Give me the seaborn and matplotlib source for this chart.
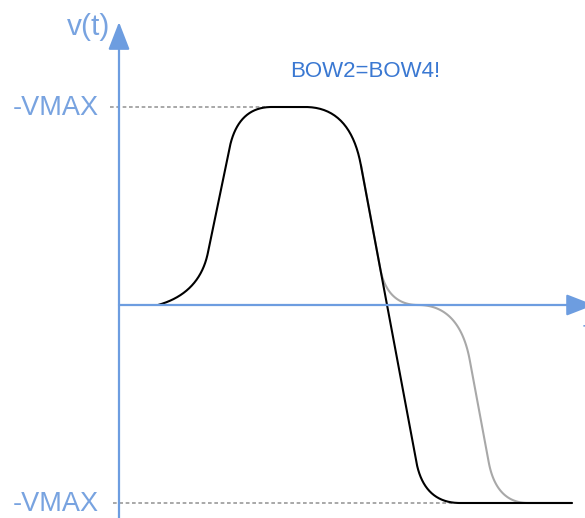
import numpy as np
import matplotlib
matplotlib.use("Agg")
import matplotlib.pyplot as plt
import pandas as pd
import seaborn as sns

sns.set_style('white')
plt.rcParams['font.family'] = ['Liberation Sans', 'DejaVu Sans']

# ====== Profile data (t, v in units of VMAX) ======
# sharp-corner vertices of the profile plus how much of each side is rounded off
black_t = [0.38, 0.795, 1.18, 2.30, 3.04, 4.52]
black_v = [0.0, 0.0586, 1.0, 1.0, -1.0, -1.0]
black_cut_in = [0, 1.0, 0.22, 0.40, 0.104, 0]
black_cut_out = [0, 0.217, 0.30, 0.146, 0.243, 0]

grey_t = [2.41, 2.67, 3.395, 3.763, 4.52]
grey_v = [0.707, 0.0, 0.0, -1.0, -1.0]
grey_cut_in = [0, 0.264, 0.57, 0.207, 0]
grey_cut_out = [0, 0.43, 0.278, 0.42, 0]

vmax_label = "-VMAX"
title_text = "BOW2=BOW4!"

axis_blue = '#6d9de0'
label_blue = '#78a3e0'
note_blue = '#3a78d2'


def rounded_path(ts, vs, cut_in, cut_out, n=40):
    """Polyline with each inner corner replaced by a quadratic Bezier."""
    pts = np.column_stack([ts, vs]).astype(float)
    out = [pts[0]]
    for i in range(1, len(pts) - 1):
        p_prev, p, p_next = pts[i - 1], pts[i], pts[i + 1]
        a = p + (p_prev - p) * cut_in[i]
        b = p + (p_next - p) * cut_out[i]
        s = np.linspace(0, 1, n)[:, None]
        bez = (1 - s) ** 2 * a + 2 * (1 - s) * s * p + s ** 2 * b
        out.extend(bez)
    out.append(pts[-1])
    out = np.array(out)
    return pd.DataFrame({'t': out[:, 0], 'v': out[:, 1]})


black = rounded_path(black_t, black_v, black_cut_in, black_cut_out)
grey = rounded_path(grey_t, grey_v, grey_cut_in, grey_cut_out)

# ====== Figure ======
fig = plt.figure(figsize=(5.85, 5.18), dpi=100)
ax = fig.add_axes([0, 0, 1, 1])
ax.set_xlim(-1.20, 4.65)
ax.set_ylim(-1.0758, 1.5404)
ax.axis('off')

# dotted VMAX guides
ax.plot([-0.10, 1.45], [1, 1], color='#9a9a9a', lw=1.2, ls=(0, (2.2, 1.6)))
ax.plot([-0.07, 3.35], [-1, -1], color='#9a9a9a', lw=1.2, ls=(0, (2.2, 1.6)))

# axes with arrows
ax.annotate('', xy=(-0.01, 1.429), xytext=(-0.01, -1.09),
            arrowprops=dict(arrowstyle='-|>,head_length=0.85,head_width=0.33',
                            mutation_scale=20, color=axis_blue, lw=1.6,
                            shrinkA=0, shrinkB=0))
ax.annotate('', xy=(4.74, 0), xytext=(-0.01, 0),
            arrowprops=dict(arrowstyle='-|>,head_length=0.85,head_width=0.33',
                            mutation_scale=20, color=axis_blue, lw=1.6,
                            shrinkA=0, shrinkB=0), annotation_clip=False)

# velocity curves
sns.lineplot(data=grey, x='t', y='v', sort=False, color='#a8a8a8', lw=1.5, ax=ax)
sns.lineplot(data=black, x='t', y='v', sort=False, color='black', lw=1.5, ax=ax)

# labels
ax.text(-0.10, 1.364, "v(t)", ha='right', va='baseline', fontsize=21.5, color=label_blue)
ax.text(-0.21, 0.96, vmax_label, ha='right', va='baseline', fontsize=19.5, color=label_blue)
ax.text(-0.21, -1.04, vmax_label, ha='right', va='baseline', fontsize=19.5, color=label_blue)
ax.text(2.45, 1.152, title_text, ha='center', va='baseline', fontsize=16, color=note_blue)
ax.text(4.63, -0.17, "t", ha='left', va='baseline', fontsize=19, color=label_blue)

fig.savefig('out.png', dpi=100)
